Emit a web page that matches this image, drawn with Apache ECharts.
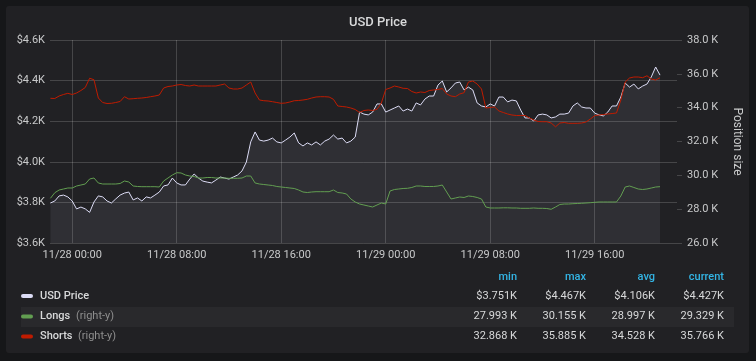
<!DOCTYPE html>
<html><head><meta charset="utf-8">
<script src="https://cdn.jsdelivr.net/npm/echarts@6/dist/echarts.min.js"></script>
<style>html,body{margin:0;padding:0;background:#161719;}#c{width:756px;height:361px;}</style>
</head><body><div id="c"></div>
<script>
// ---- data (20-minute samples, 11/27 22:20 UTC .. 11/29 21:00 UTC) ----
const startTime = Date.UTC(2018, 10, 27, 22, 20);
const stepMinutes = 20;
const axisStart = Date.UTC(2018, 10, 27, 22, 18);
const axisEnd = Date.UTC(2018, 10, 29, 22, 18);

const priceValues = [
3797,3807,3832,3836,3827,3807,3768,3777,3768,3751,
3802,3832,3827,3807,3797,3817,3836,3846,3851,3812,
3822,3807,3827,3822,3836,3851,3881,3886,3920,3896,
3886,3886,3915,3940,3920,3905,3900,3896,3910,3925,
3920,3915,3925,3935,3955,3999,4098,4147,4107,4102,
4107,4117,4098,4093,4107,4122,4142,4093,4078,4093,
4083,4098,4083,4102,4112,4132,4112,4117,4093,4102,
4122,4245,4235,4231,4245,4285,4285,4245,4255,4265,
4275,4250,4260,4250,4290,4280,4309,4324,4324,4378,
4398,4344,4364,4388,4393,4354,4368,4354,4290,4275,
4270,4285,4275,4319,4319,4295,4304,4300,4255,4216,
4216,4201,4231,4235,4231,4216,4221,4235,4235,4240,
4275,4290,4270,4265,4265,4240,4231,4226,4245,4275,
4275,4319,4388,4368,4383,4359,4373,4383,4418,4467,
4427];

const longsValues = [
28642,28973,29133,29192,29251,29251,29369,29428,29487,29783,
29842,29547,29487,29487,29487,29487,29517,29665,29606,29369,
29340,29328,29328,29328,29328,29310,29665,29842,30019,30155,
30138,30019,29960,29930,29842,29842,29871,29871,29842,29842,
29842,29824,29824,29824,29842,29960,29960,29547,29487,29458,
29428,29399,29340,29310,29281,29251,29222,29133,29015,28985,
29015,29033,29033,29033,29033,29133,28985,28956,28896,28601,
28424,28305,28246,28187,28128,28246,28364,28305,29074,29162,
29192,29222,29233,29281,29369,29369,29340,29340,29340,29369,
29428,29015,28601,28660,28719,28690,28778,28748,28690,28601,
28128,28069,28069,28069,28080,28080,28069,28069,28051,28051,
28051,28069,28051,28051,28039,27993,28128,28276,28305,28305,
28323,28335,28347,28364,28382,28406,28424,28424,28424,28424,
28424,28778,29310,29369,29281,29192,29162,29192,29251,29310,
29329];

const shortsValues = [
34553,34541,34689,34778,34849,34778,34867,35014,35192,35738,
35650,34571,34305,34246,34258,34305,34364,34648,34512,34530,
34553,34571,34601,34648,34689,34748,35162,35251,35280,35339,
35369,35310,35280,35339,35280,35280,35280,35280,35280,35339,
35398,35162,35103,35103,35162,35339,35517,34867,34453,34411,
34394,34352,34305,34258,34276,34335,34411,34423,34453,34494,
34571,34630,34648,34648,34630,34494,34098,34069,34039,33980,
33891,33714,33832,33862,33832,33903,34276,35074,35162,35280,
35221,35145,35133,34955,34867,34926,34896,35014,35044,35074,
35133,34808,34689,34648,34808,34884,35517,35576,35398,35103,
33980,34010,34039,33803,33714,33625,33566,33537,33537,33537,
33389,33271,33182,33170,33170,33093,32868,33093,33123,33075,
33075,33075,33093,33152,33330,33525,33566,33596,33625,33655,
33684,34453,35517,35754,35812,35812,35771,35885,35694,35635,
35766];

const xTickTimes = ['2018-11-28T00:00:00Z','2018-11-28T08:00:00Z','2018-11-28T16:00:00Z',
                    '2018-11-29T00:00:00Z','2018-11-29T08:00:00Z','2018-11-29T16:00:00Z'];
const leftAxisMin = 3600, leftAxisMax = 4600, leftAxisStep = 200;
const rightAxisMin = 26000, rightAxisMax = 38000, rightAxisStep = 2000;

const statHeaders = ['min', 'max', 'avg', 'current'];
const seriesNames = ['USD Price', 'Longs', 'Shorts'];
const seriesNotes = ['', '(right-y)', '(right-y)'];
const priceStats = ['$3.751K', '$4.467K', '$4.106K', '$4.427K'];
const longsStats = ['27.993 K', '30.155 K', '28.997 K', '29.329 K'];
const shortsStats = ['32.868 K', '35.885 K', '34.528 K', '35.766 K'];

// ---- styles ----
const colors = ['#dcdcf5', '#629e51', '#bf1b00'];
const textColor = '#d8d9da';
const axisTextColor = '#c8c9ca';
const gridColor = 'rgba(255,255,255,0.17)';
const FONT = 'Roboto, "Noto Sans", sans-serif';

function toPairs(arr) {
  return arr.map((v, i) => [startTime + i * stepMinutes * 60000, v]);
}
function pad(n) { return (n < 10 ? '0' : '') + n; }
function fmtTime(v) {
  const d = new Date(v);
  return pad(d.getUTCMonth() + 1) + '/' + pad(d.getUTCDate()) + ' ' + pad(d.getUTCHours()) + ':' + pad(d.getUTCMinutes());
}
const tickVals = xTickTimes.map(s => Date.parse(s));

// ---- legend table graphics ----
const colX = [517, 586, 655, 724];
const rowY = [296, 316.5, 336.5];
const statTable = [priceStats, longsStats, shortsStats];
const noteX = [0, 76, 78];
const graphics = [
  { type: 'rect', shape: { x: 6, y: 6, width: 743, height: 347, r: 3 }, style: { fill: '#212124' }, z: -10, silent: true },
  { type: 'rect', shape: { x: 21, y: 307, width: 713, height: 20 }, style: { fill: '#29292c' }, z: -9, silent: true }
];
statHeaders.forEach((h, j) => graphics.push({
  type: 'text', x: colX[j], y: 277, style: { text: h, fill: '#33b5e5', font: '500 11px ' + FONT, textAlign: 'right', textVerticalAlign: 'middle' }
}));
seriesNames.forEach((n, r) => {
  graphics.push({ type: 'rect', shape: { x: 21, y: rowY[r] - 2, width: 12, height: 4, r: 2 }, style: { fill: colors[r] } });
  graphics.push({ type: 'text', x: 40, y: rowY[r], style: { text: n, fill: textColor, font: '500 11px ' + FONT, textVerticalAlign: 'middle' } });
  if (seriesNotes[r]) graphics.push({ type: 'text', x: noteX[r], y: rowY[r], style: { text: seriesNotes[r], fill: '#8e8e8e', font: '11px ' + FONT, textVerticalAlign: 'middle' } });
  statTable[r].forEach((s, j) => graphics.push({
    type: 'text', x: colX[j], y: rowY[r], style: { text: s, fill: textColor, font: '11px ' + FONT, textAlign: 'right', textVerticalAlign: 'middle' }
  }));
});

const chart = echarts.init(document.getElementById('c'), null, { renderer: 'canvas' });
chart.setOption({
  animation: false,
  backgroundColor: '#161719',
  textStyle: { fontFamily: FONT },
  title: { text: 'USD Price', left: 'center', top: 11, textStyle: { color: textColor, fontSize: 13, fontWeight: 500, fontFamily: FONT } },
  grid: { left: 50, right: 79, top: 40, bottom: 118, containLabel: false },
  xAxis: {
    type: 'value', min: axisStart, max: axisEnd, scale: true,
    axisLine: { show: false },
    axisTick: { show: false, customValues: tickVals },
    axisLabel: { customValues: tickVals, formatter: v => fmtTime(v), color: axisTextColor, fontSize: 11, margin: 7, fontFamily: FONT, showMinLabel: true, showMaxLabel: true },
    splitLine: { show: true, lineStyle: { color: gridColor, width: 1 } }
  },
  yAxis: [{
    type: 'value', min: leftAxisMin, max: leftAxisMax, interval: leftAxisStep,
    axisLine: { show: false }, axisTick: { show: false },
    axisLabel: { formatter: v => '$' + (v / 1000).toFixed(1) + 'K', color: axisTextColor, fontSize: 11, margin: 5, fontFamily: FONT },
    splitLine: { show: true, lineStyle: { color: gridColor, width: 1 } }
  }, {
    type: 'value', min: rightAxisMin, max: rightAxisMax, interval: rightAxisStep, position: 'right',
    name: 'Position size', nameLocation: 'middle', nameRotate: -90, nameGap: 54,
    nameTextStyle: { color: axisTextColor, fontSize: 12, fontFamily: FONT },
    axisLine: { show: false },
    axisTick: { show: true, length: 5, lineStyle: { color: gridColor } },
    axisLabel: { formatter: v => (v / 1000).toFixed(1) + ' K', color: axisTextColor, fontSize: 11, margin: 10, fontFamily: FONT },
    splitLine: { show: false }
  }],
  series: [{
    name: 'USD Price', type: 'line', yAxisIndex: 0, data: toPairs(priceValues),
    showSymbol: false, symbol: 'none', lineStyle: { width: 1, color: colors[0] }, itemStyle: { color: colors[0] },
    areaStyle: { color: 'rgba(220,220,245,0.11)', origin: 'start' }
  }, {
    name: 'Longs', type: 'line', yAxisIndex: 1, data: toPairs(longsValues),
    showSymbol: false, symbol: 'none', lineStyle: { width: 1, color: colors[1] }, itemStyle: { color: colors[1] }
  }, {
    name: 'Shorts', type: 'line', yAxisIndex: 1, data: toPairs(shortsValues),
    showSymbol: false, symbol: 'none', lineStyle: { width: 1, color: colors[2] }, itemStyle: { color: colors[2] }
  }],
  graphic: graphics
});
</script></body></html>
